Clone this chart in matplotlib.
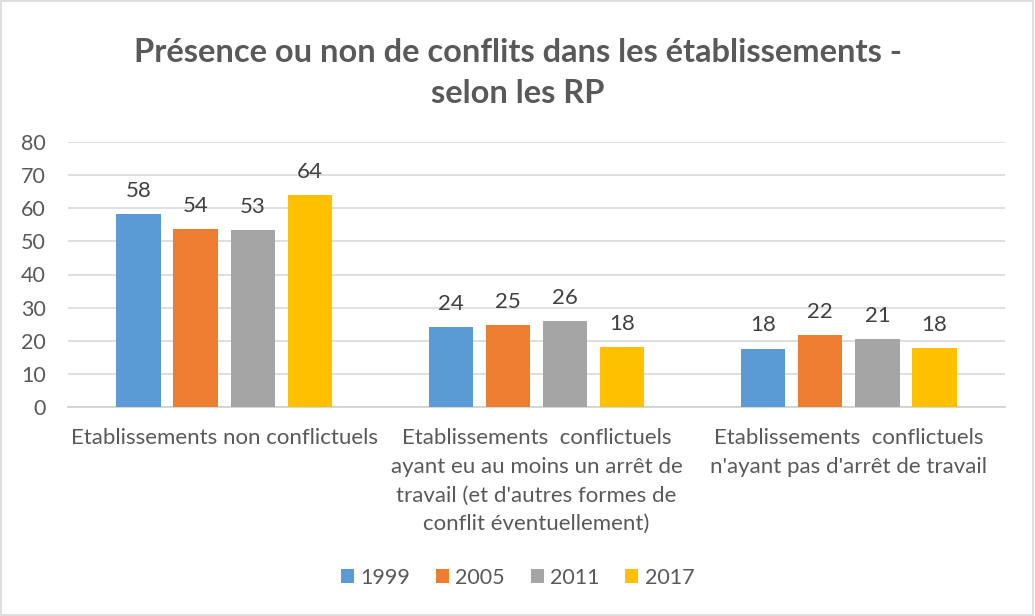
import numpy as np
import matplotlib.pyplot as plt
from matplotlib.patches import Rectangle

plt.rcParams['font.family'] = ['Lato', 'DejaVu Sans']

categories = [
    "Etablissements non conflictuels",
    "Etablissements  conflictuels\nayant eu au moins un arrêt de\ntravail (et d'autres formes de\nconflit éventuellement)",
    "Etablissements  conflictuels\nn'ayant pas d'arrêt de travail",
]
years = ['1999', '2005', '2011', '2017']
v1999 = [58.2, 24.1, 17.6]
v2005 = [53.6, 24.8, 21.7]
v2011 = [53.3, 26.0, 20.6]
v2017 = [63.9, 18.1, 17.7]
colors = ['#5b9bd5', '#ed7d31', '#a5a5a5', '#ffc000']

txt = '#595959'
fig = plt.figure(figsize=(10.35, 6.16), dpi=100)
fig.patches.append(Rectangle((0.001, 0.001), 0.997, 0.997, transform=fig.transFigure,
                             fill=False, edgecolor='#d9d9d9', linewidth=1.2))

ax = fig.add_axes([68 / 1035, 1 - 407 / 616, (1005 - 68) / 1035, (407 - 142) / 616])

x = np.arange(len(categories))
width = 0.142
step = 0.183
for i, (yr, vals) in enumerate(zip(years, [v1999, v2005, v2011, v2017])):
    pos = x + (i - 1.5) * step
    bars = ax.bar(pos, vals, width, color=colors[i], label=yr, zorder=3)
    for b, v in zip(bars, vals):
        ax.text(b.get_x() + b.get_width() / 2, v + 4.0, f'{v:.0f}',
                ha='center', va='bottom', fontsize=16, color='#404040')

ax.set_xlim(-0.5, 2.5)
ax.set_ylim(0, 80)
ax.set_yticks(range(0, 81, 10))
ax.yaxis.grid(True, color='#d9d9d9', linewidth=1.2, zorder=0)
ax.set_axisbelow(True)
for s in ['left', 'right', 'top']:
    ax.spines[s].set_visible(False)
ax.spines['bottom'].set_color('#d0d0d0')
ax.spines['bottom'].set_linewidth(1.2)
ax.tick_params(axis='y', length=0, labelsize=15.5, labelcolor=txt, pad=16)
ax.set_xticks(x)
ax.set_xticklabels(categories, fontsize=16, color=txt, linespacing=1.55)
ax.tick_params(axis='x', length=0, pad=15)

fig.text(0.5, 0.882, 'Présence ou non de conflits dans les établissements -\nselon les RP',
         ha='center', va='center', fontsize=23.5, fontweight='bold', color=txt,
         linespacing=1.5)

fig.legend(loc='center', bbox_to_anchor=(0.5, 0.062), ncol=4, frameon=False,
           fontsize=15.5, labelcolor=txt, handlelength=0.6, handleheight=0.6,
           handletextpad=0.3, columnspacing=1.2)

fig.savefig('out.png', dpi=100)
